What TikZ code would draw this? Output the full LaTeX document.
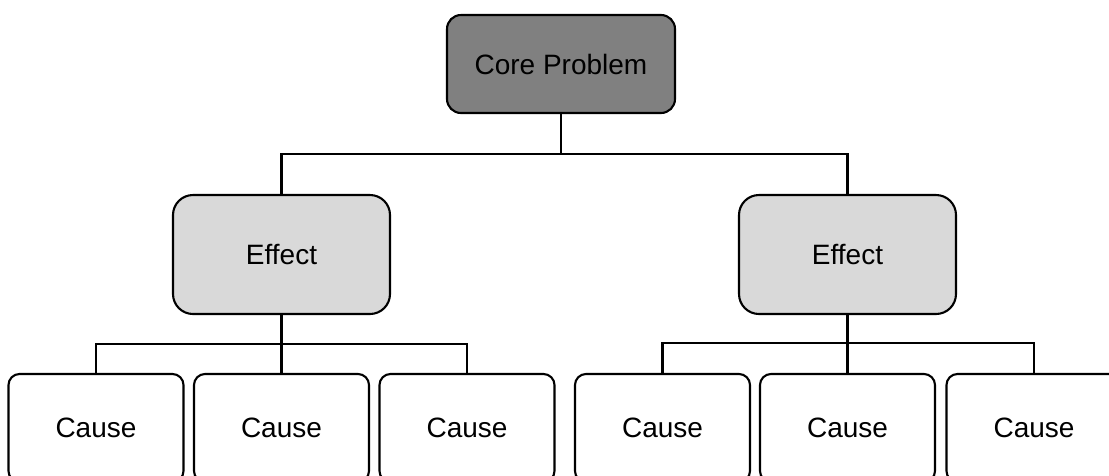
\documentclass[tikz,border=0pt]{standalone}
\usepackage{fontspec}
\setmainfont{Liberation Sans}
\definecolor{coregray}{HTML}{808080}
\definecolor{effgray}{HTML}{D9D9D9}
\begin{document}
\begin{tikzpicture}[x=1pt,y=-1pt,
  box/.style={draw=black, line width=2.1pt, inner sep=0pt, font=\fontsize{28}{30}\selectfont, text=black},
  corebox/.style={box, fill=coregray, rounded corners=14pt, minimum width=228pt, minimum height=98pt},
  effbox/.style={box, fill=effgray, rounded corners=20pt, minimum width=217pt, minimum height=119pt},
  causebox/.style={box, fill=white, rounded corners=11pt, minimum width=175pt, minimum height=108pt},
  conn/.style={draw=black, line width=2.1pt}]
\useasboundingbox (0,0) rectangle (1109,475);
\begin{scope}
\clip (0,0) rectangle (1109,475);
\node[corebox] (core) at (561,64) {Core Problem};
\node[effbox] (e1) at (281.5,254.5) {Effect};
\node[effbox] (e2) at (847.5,254.5) {Effect};
\node[causebox] (c1) at (96,428) {Cause};
\node[causebox] (c2) at (281.5,428) {Cause};
\node[causebox] (c3) at (467,428) {Cause};
\node[causebox] (c4) at (662.5,428) {Cause};
\node[causebox] (c5) at (847.5,428) {Cause};
\node[causebox] (c6) at (1034,428) {Cause};
\coordinate (j0) at (561,154);
\coordinate (j1) at (281.5,344);
\coordinate (j2) at (847.5,343);
\draw[conn] (core.south) -- (j0);
\draw[conn] (e1.north) |- (j0) -| (e2.north);
\draw[conn] (e1.south) -- (j1);
\draw[conn] (c1.north) |- (j1) -| (c3.north);
\draw[conn] (j1) -- (c2.north);
\draw[conn] (e2.south) -- (j2);
\draw[conn] (c4.north) |- (j2) -| (c6.north);
\draw[conn] (j2) -- (c5.north);
\end{scope}
\end{tikzpicture}
\end{document}
